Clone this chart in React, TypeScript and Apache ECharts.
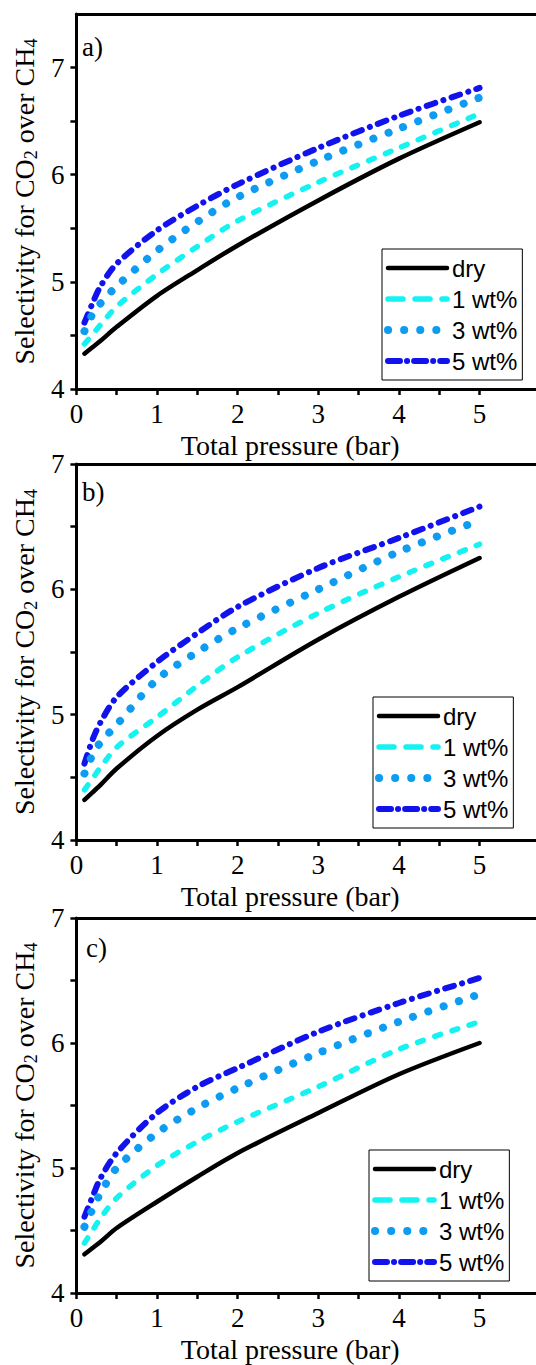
import React, { useEffect, useRef } from "react";
import * as echarts from "echarts";

// ---------- data ----------
const pressure = [0.1, 0.2, 0.3, 0.5, 1, 1.5, 2, 3, 4, 5];
const seriesNames = ["dry", "1 wt%", "3 wt%", "5 wt%"];
const panelLabels = ["a)", "b)", "c)"];
const xTickLabels = [0, 1, 2, 3, 4, 5];
const xTickMarks = [0, 0.5, 1, 1.5, 2, 2.5, 3, 3.5, 4, 4.5, 5];
const yTickLabels = [4, 5, 6, 7];
const yTickMarks = [4, 4.5, 5, 5.5, 6, 6.5, 7];
const yMaxes = [7.5, 7, 7];

const panelA_dry = [4.33, 4.39, 4.45, 4.58, 4.87, 5.11, 5.34, 5.76, 6.15, 6.49];
const panelA_1wt = [4.42, 4.51, 4.6, 4.77, 5.07, 5.33, 5.57, 5.93, 6.25, 6.57];
const panelA_3wt = [4.54, 4.7, 4.8, 4.96, 5.29, 5.56, 5.79, 6.13, 6.43, 6.72];
const panelA_5wt = [4.62, 4.8, 4.96, 5.17, 5.48, 5.71, 5.91, 6.25, 6.55, 6.81];

const panelB_dry = [4.32, 4.38, 4.44, 4.57, 4.83, 5.04, 5.22, 5.6, 5.94, 6.25];
const panelB_1wt = [4.4, 4.49, 4.58, 4.74, 4.98, 5.23, 5.46, 5.81, 6.1, 6.36];
const panelB_3wt = [4.53, 4.68, 4.78, 4.92, 5.28, 5.5, 5.69, 6.0, 6.3, 6.55];
const panelB_5wt = [4.61, 4.8, 4.94, 5.14, 5.42, 5.65, 5.86, 6.17, 6.41, 6.66];

const panelC_dry = [4.31, 4.36, 4.41, 4.52, 4.73, 4.93, 5.12, 5.44, 5.75, 6.0];
const panelC_1wt = [4.4, 4.5, 4.6, 4.76, 5.02, 5.21, 5.37, 5.65, 5.95, 6.17];
const panelC_3wt = [4.53, 4.67, 4.8, 5.0, 5.28, 5.48, 5.64, 5.92, 6.17, 6.39];
const panelC_5wt = [4.61, 4.77, 4.92, 5.12, 5.44, 5.65, 5.8, 6.09, 6.32, 6.52];

const panels = [
  [panelA_dry, panelA_1wt, panelA_3wt, panelA_5wt],
  [panelB_dry, panelB_1wt, panelB_3wt, panelB_5wt],
  [panelC_dry, panelC_1wt, panelC_3wt, panelC_5wt],
];

// ---------- styles ----------
const SERIF = "'Liberation Serif', 'Times New Roman', serif";
const SANS = "'Liberation Sans', Arial, sans-serif";
const lineStyles: any[] = [
  { color: "#000000", width: 4.5, type: "solid", cap: "round" },
  { color: "#14F2F2", width: 5.5, type: [6, 12], cap: "round" },
  { color: "#0D9CF2", width: 8, type: [0.1, 16], cap: "round" },
  { color: "#1212EC", width: 6, type: [9, 8.5, 0.1, 8.5], cap: "round" },
];
const legendLineStyles: any[] = [
  { color: "#000000", width: 4.5, type: "solid", cap: "round" },
  { color: "#14F2F2", width: 5.5, type: [15, 12], cap: "round" },
  { color: "#0D9CF2", width: 8, type: [0.1, 16], cap: "round" },
  { color: "#1212EC", width: 6, type: [12, 7, 0.1, 7], cap: "round" },
];

const grids = [
  { left: 71, top: 14, height: 375 },
  { left: 71, top: 464, height: 376 },
  { left: 71, top: 918, height: 375 },
];
const legendPos = [
  { left: 382, top: 249 },
  { left: 373, top: 697 },
  { left: 369, top: 1150 },
];
const labelPos = [
  { x: 82, y: 47 },
  { x: 82, y: 492 },
  { x: 86, y: 948 },
];

function buildOption() {
  const xMax = 5.7;
  const grid: any[] = [];
  const xAxis: any[] = [];
  const yAxis: any[] = [];
  const series: any[] = [];
  const legend: any[] = [];
  const graphic: any[] = [];

  grids.forEach((g, i) => {
    grid.push({ left: g.left, top: g.top, height: g.height, width: Math.round(xMax * 82.6), containLabel: false });
    xAxis.push({
      type: "value",
      gridIndex: i,
      position: "bottom",
      min: 0,
      max: xMax,
      interval: 1,
      name: "Total pressure (bar)",
      nameLocation: "middle",
      nameGap: 42,
      nameTextStyle: { fontFamily: SERIF, fontSize: 28, color: "#000", padding: [0, 32, 0, 0] },
      axisLine: { show: true, lineStyle: { color: "#000", width: 3 } },
      axisTick: { show: true, inside: false, length: 6, customValues: xTickMarks, lineStyle: { color: "#000", width: 2.5 } },
      minorTick: { show: false },
      splitLine: { show: false },
      axisLabel: { customValues: xTickLabels, fontFamily: SERIF, fontSize: 27, color: "#000", margin: 11 },
    });
    xAxis.push({
      type: "value",
      gridIndex: i,
      position: "top",
      min: 0,
      max: xMax,
      interval: 1,
      axisLine: { show: true, lineStyle: { color: "#000", width: 3 } },
      axisTick: { show: false },
      axisLabel: { show: false },
      splitLine: { show: false },
    });
    yAxis.push({
      type: "value",
      gridIndex: i,
      min: 4,
      max: yMaxes[i],
      interval: 1,
      name: "Selectivity for CO{sub|2} over CH{sub|4}",
      nameLocation: "middle",
      nameRotate: 90,
      nameGap: 28,
      nameTextStyle: {
        fontFamily: SERIF,
        fontSize: 28,
        color: "#000",
        lineHeight: 32,
        rich: {
          sub: { fontFamily: SERIF, fontSize: 18, color: "#000", verticalAlign: "bottom", lineHeight: 12 },
        },
      },
      axisLine: { show: true, lineStyle: { color: "#000", width: 3 } },
      axisTick: { show: true, inside: false, length: 6, customValues: yTickMarks, lineStyle: { color: "#000", width: 2.5 } },
      minorTick: { show: false },
      splitLine: { show: false },
      axisLabel: { customValues: yTickLabels, fontFamily: SERIF, fontSize: 27, color: "#000", margin: 12 },
    });

    panels[i].forEach((vals, k) => {
      series.push({
        type: "line",
        name: seriesNames[k],
        xAxisIndex: i * 2,
        yAxisIndex: i,
        data: pressure.map((p, j) => [p, vals[j]]),
        smooth: 0.3,
        symbol: "none",
        showSymbol: false,
        lineStyle: lineStyles[k],
        itemStyle: { color: lineStyles[k].color },
        z: 10 - k,
      });
    });

    legend.push({
      show: true,
      orient: "vertical",
      left: legendPos[i].left,
      top: legendPos[i].top,
      data: seriesNames.map((n, k) => ({ name: n, lineStyle: legendLineStyles[k], itemStyle: { opacity: 0 } })),
      itemWidth: 59,
      itemHeight: 14,
      itemGap: 7,
      padding: [7, 5, 7, 2],
      borderColor: "#000",
      borderWidth: 1,
      backgroundColor: "#fff",
      selectedMode: false,
      itemStyle: { opacity: 0 },
      textStyle: { fontFamily: SANS, fontSize: 24, color: "#000" },
    });

    graphic.push({
      type: "text",
      x: labelPos[i].x,
      y: labelPos[i].y,
      style: { text: panelLabels[i], font: `27px ${SERIF}`, fill: "#000", verticalAlign: "middle" },
      z: 100,
    });
  });

  return {
    animation: false,
    backgroundColor: "#fff",
    grid,
    xAxis,
    yAxis,
    series,
    legend,
    graphic,
  };
}

export default function App() {
  const ref = useRef<HTMLDivElement>(null);
  useEffect(() => {
    if (!ref.current) return;
    const chart = echarts.init(ref.current, undefined, { renderer: "svg" });
    chart.setOption(buildOption() as any);
    return () => chart.dispose();
  }, []);
  return (
    <div
      ref={ref}
      style={{ position: "fixed", left: 0, top: 0, width: 536, height: 1365, background: "#fff" }}
    />
  );
}
